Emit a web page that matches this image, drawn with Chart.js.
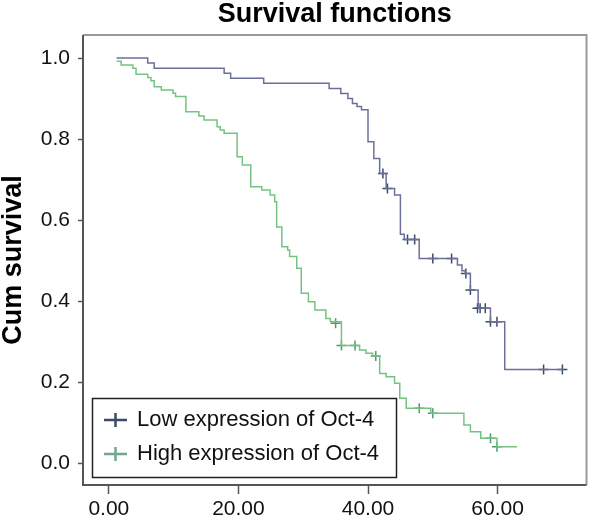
<!DOCTYPE html>
<html>
<head>
<meta charset="utf-8">
<script src="https://cdn.jsdelivr.net/npm/chart.js@4.4.1/dist/chart.umd.min.js"></script>
<style>
  body { margin: 0; background: #fff; }
  #wrap { width: 593px; height: 520px; }
</style>
</head>
<body>
<div id="wrap"><canvas id="kmChart" width="593" height="520"></canvas></div>
<script>
// survival data (time, cum survival after the step)
const lowTimes = [1.2, 6.0, 7.0, 17.8, 18.8, 23.9, 34.0, 35.8, 36.9, 37.6, 38.3, 39.0, 40.0, 40.9, 41.8, 42.8, 44.1, 45.0, 45.6, 47.9, 53.8, 54.5, 55.0, 55.8, 57.0, 58.9, 61.1, 70.1];
const lowSurv = [1.0, 0.9875, 0.975, 0.9625, 0.95, 0.9375, 0.925, 0.9125, 0.9, 0.8875, 0.88, 0.872, 0.793, 0.752, 0.715, 0.678, 0.662, 0.565, 0.552, 0.505, 0.489, 0.475, 0.468, 0.427, 0.382, 0.349, 0.231, 0.231];
const lowCensorTimes = [42.3, 43.0, 46.1, 47.2, 50.0, 52.9, 55.1, 55.8, 56.9, 57.3, 58.1, 58.9, 59.9, 67.1, 70.0];
const lowCensorSurv = [0.715, 0.678, 0.552, 0.552, 0.505, 0.505, 0.468, 0.427, 0.382, 0.382, 0.382, 0.349, 0.349, 0.231, 0.231];

const highTimes = [1.2, 1.9, 3.7, 4.2, 6.0, 6.5, 7.0, 8.1, 9.9, 10.3, 11.9, 13.9, 14.7, 16.7, 17.2, 17.8, 19.8, 20.6, 21.9, 23.6, 24.9, 25.6, 25.9, 26.7, 27.6, 27.9, 29.0, 29.7, 30.8, 31.8, 33.5, 34.2, 35.9, 38.7, 39.7, 40.7, 41.8, 42.8, 44.1, 44.9, 45.9, 49.7, 54.8, 55.8, 57.4, 59.9, 63.0];
const highSurv = [0.992, 0.983, 0.975, 0.96, 0.952, 0.944, 0.929, 0.921, 0.913, 0.905, 0.867, 0.857, 0.847, 0.83, 0.822, 0.814, 0.756, 0.736, 0.682, 0.674, 0.662, 0.645, 0.583, 0.534, 0.526, 0.51, 0.481, 0.419, 0.398, 0.378, 0.357, 0.349, 0.29, 0.279, 0.271, 0.264, 0.221, 0.213, 0.197, 0.16, 0.135, 0.123, 0.094, 0.077, 0.061, 0.04, 0.04];
const highCensorTimes = [35.0, 35.9, 38.0, 41.2, 47.9, 50.0, 58.9, 59.9];
const highCensorSurv = [0.345, 0.29, 0.29, 0.264, 0.135, 0.123, 0.061, 0.04];

const xTickValues = [0, 20, 40, 60];
const yTickValues = [0, 0.2, 0.4, 0.6, 0.8, 1.0];
const legendLabels = ['Low expression of Oct-4', 'High expression of Oct-4'];

const lowLine = '#6b7099';
const lowMark = '#3b4a6b';
const highLine = '#74c383';
const highMark = '#4f9a68';
const highLegendMark = '#6fa88e';
const fontFamily = 'Arial, "Liberation Sans", sans-serif';

const toPoints = (xs, ys) => xs.map((x, i) => ({x: x, y: ys[i]}));

// frame round the plot area
const framePlugin = {
    id: 'frame',
    afterDatasetsDraw(chart) {
        const a = chart.chartArea;
        const ctx = chart.ctx;
        ctx.save();
        ctx.lineWidth = 2;
        ctx.strokeStyle = '#9a9a9a';
        ctx.beginPath();
        ctx.moveTo(a.left, a.top);
        ctx.lineTo(a.right, a.top);
        ctx.lineTo(a.right, a.bottom);
        ctx.stroke();
        ctx.strokeStyle = '#555';
        ctx.beginPath();
        ctx.moveTo(a.left, a.top);
        ctx.lineTo(a.left, a.bottom);
        ctx.lineTo(a.right, a.bottom);
        ctx.stroke();
        ctx.restore();
    }
};

// title over the plot area
const titlePlugin = {
    id: 'plotTitle',
    afterDraw(chart) {
        const a = chart.chartArea;
        const ctx = chart.ctx;
        ctx.save();
        ctx.font = 'bold 27px ' + fontFamily;
        ctx.fillStyle = '#000';
        ctx.textAlign = 'center';
        ctx.textBaseline = 'alphabetic';
        ctx.fillText('Survival functions', (a.left + a.right) / 2, 22);
        ctx.restore();
    }
};

// boxed legend inside the plot, bottom left
const legendPlugin = {
    id: 'boxLegend',
    afterDraw(chart) {
        const ctx = chart.ctx;
        ctx.save();
        ctx.lineWidth = 1.5;
        ctx.strokeStyle = '#222';
        ctx.strokeRect(92.5, 398.5, 304, 79);
        const rows = [
            {label: legendLabels[0], color: lowMark, y: 420},
            {label: legendLabels[1], color: highLegendMark, y: 454}
        ];
        rows.forEach((r) => {
            ctx.strokeStyle = r.color;
            ctx.lineWidth = 2.5;
            ctx.beginPath();
            ctx.moveTo(104, r.y);
            ctx.lineTo(127, r.y);
            ctx.moveTo(115.5, r.y - 7);
            ctx.lineTo(115.5, r.y + 7);
            ctx.stroke();
            ctx.fillStyle = '#111';
            ctx.font = '22px ' + fontFamily;
            ctx.textAlign = 'left';
            ctx.textBaseline = 'middle';
            ctx.fillText(r.label, 137, r.y);
        });
        ctx.restore();
    }
};

const ctx = document.getElementById('kmChart').getContext('2d');

const myChart = new Chart(ctx, {
    type: 'line',
    data: {
        datasets: [{
            label: legendLabels[0],
            data: toPoints(lowTimes, lowSurv),
            stepped: true,
            borderColor: lowLine,
            borderWidth: 1.5,
            pointRadius: 0,
            fill: false
        }, {
            label: legendLabels[1],
            data: toPoints(highTimes, highSurv),
            stepped: true,
            borderColor: highLine,
            borderWidth: 1.5,
            pointRadius: 0,
            fill: false
        }, {
            label: 'low censored',
            data: toPoints(lowCensorTimes, lowCensorSurv),
            showLine: false,
            pointStyle: 'cross',
            pointRadius: 5,
            borderColor: lowMark,
            borderWidth: 1.5
        }, {
            label: 'high censored',
            data: toPoints(highCensorTimes, highCensorSurv),
            showLine: false,
            pointStyle: 'cross',
            pointRadius: 5,
            borderColor: highMark,
            borderWidth: 1.5
        }]
    },
    options: {
        responsive: false,
        animation: false,
        layout: {padding: {top: 35, right: 3, left: 0, bottom: 0}},
        plugins: {
            legend: {display: false},
            tooltip: {enabled: false},
            title: {display: false}
        },
        scales: {
            x: {
                type: 'linear',
                min: -3.985,
                max: 73.72,
                afterBuildTicks: (scale) => { scale.ticks = xTickValues.map(v => ({value: v})); },
                afterFit: (scale) => { scale.height = 35; },
                grid: {drawOnChartArea: false, drawTicks: true, tickLength: 9, tickColor: '#555', tickWidth: 1.5},
                border: {display: false},
                ticks: {
                    padding: 3,
                    color: '#111',
                    font: {family: fontFamily, size: 21},
                    maxRotation: 0,
                    callback: (v) => Number(v).toFixed(2)
                }
            },
            y: {
                type: 'linear',
                min: -0.0543,
                max: 1.0568,
                afterBuildTicks: (scale) => { scale.ticks = yTickValues.map(v => ({value: v})); },
                afterFit: (scale) => { scale.width = 83; },
                grid: {drawOnChartArea: false, drawTicks: true, tickLength: 5, tickColor: '#555', tickWidth: 1.5},
                border: {display: false},
                title: {
                    display: true,
                    text: 'Cum survival',
                    color: '#000',
                    font: {family: fontFamily, size: 27, weight: 'bold', lineHeight: 1},
                    padding: {top: 0, bottom: 0}
                },
                ticks: {
                    padding: 8,
                    color: '#111',
                    font: {family: fontFamily, size: 21},
                    callback: (v) => Number(v).toFixed(1)
                }
            }
        }
    },
    plugins: [framePlugin, titlePlugin, legendPlugin]
});
myChart.update();
</script>
</body>
</html>
